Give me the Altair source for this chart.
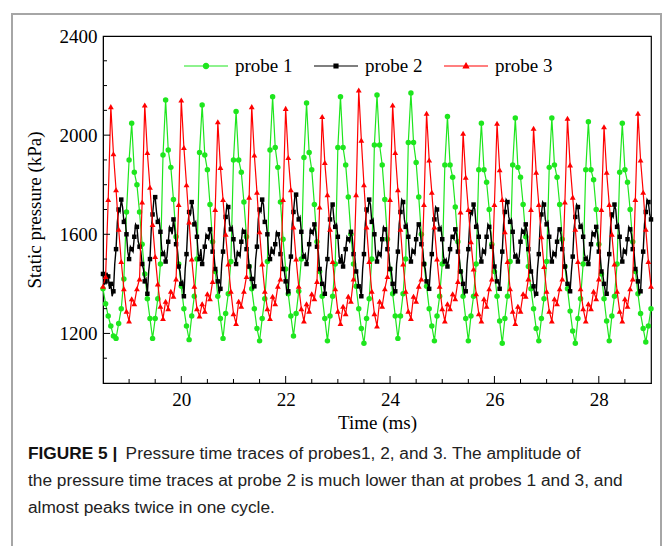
import altair as alt
import pandas as pd

# sampling of the traces (ms)
T0 = 18.5
DT = 0.05        # probes 1 and 3
DT_FINE = 0.025  # probe 2 (noisier trace, markers on every other sample)

# Static pressure (kPa)
probe1 = [1380, 1320, 1270, 1230, 1190, 1180, 1240, 1300, 1420, 1690, 1900, 2048,
          1850, 1800, 1690, 1560, 1440, 1340, 1260, 1180, 1260, 1340, 1480, 1920, 2142,
          1940, 1870, 1740, 1590, 1480, 1390, 1300, 1230, 1175, 1270, 1350, 1500, 1930, 2122,
          1920, 1860, 1720, 1570, 1450, 1350, 1260, 1180, 1280, 1360, 1490, 1900, 2095,
          1900, 1850, 1730, 1590, 1470, 1380, 1300, 1220, 1170, 1260, 1340, 1490, 1940, 2155,
          1950, 1870, 1730, 1580, 1460, 1360, 1270, 1190, 1280, 1370, 1500, 1910, 2130,
          1930, 1860, 1720, 1570, 1450, 1350, 1260, 1170, 1270, 1350, 1480, 1950, 2155,
          1950, 1880, 1750, 1600, 1480, 1390, 1300, 1220, 1160, 1260, 1340, 1500, 1960, 2162,
          1960, 1880, 1740, 1580, 1460, 1360, 1270, 1180, 1270, 1360, 1500, 1970, 2170,
          1970, 1890, 1750, 1600, 1480, 1390, 1300, 1230, 1170, 1270, 1350, 1480, 1880, 2075,
          1880, 1830, 1710, 1570, 1450, 1350, 1260, 1170, 1270, 1350, 1480, 1860, 2048,
          1860, 1810, 1700, 1560, 1450, 1350, 1250, 1160, 1260, 1350, 1490, 1880, 2069,
          1870, 1830, 1720, 1590, 1470, 1380, 1300, 1220, 1170, 1260, 1340, 1490, 1870, 2069,
          1880, 1830, 1720, 1580, 1470, 1380, 1290, 1210, 1160, 1260, 1340, 1480, 1860, 2054,
          1860, 1820, 1700, 1560, 1440, 1340, 1250, 1170, 1270, 1350, 1480, 1850, 2048,
          1860, 1810, 1700, 1570, 1450, 1360, 1280, 1220, 1165, 1230, 1300]

probe2 = [1440, 1400, 1410, 1445, 1430, 1380,
          1400, 1350, 1370, 1480, 1540, 1650, 1700, 1690, 1740, 1710, 1650, 1660, 1600, 1530,
          1500, 1550, 1540, 1530, 1590, 1640, 1630, 1570, 1550, 1530, 1480, 1460,
          1410, 1420, 1360, 1450, 1500, 1620, 1680, 1740, 1750, 1690, 1650, 1660, 1610, 1540,
          1520, 1530, 1490, 1510, 1570, 1630, 1620, 1600, 1660, 1620, 1560, 1540, 1470, 1450,
          1400, 1410, 1350, 1460, 1520, 1630, 1690, 1680, 1730, 1700, 1640, 1650, 1590, 1520,
          1500, 1540, 1480, 1500, 1550, 1600, 1590, 1580, 1620, 1600, 1530, 1520, 1460, 1450,
          1410, 1360, 1380, 1480, 1530, 1620, 1670, 1720, 1710, 1640, 1620, 1630, 1580, 1510,
          1480, 1530, 1520, 1510, 1570, 1620, 1610, 1600, 1540, 1530, 1470, 1460,
          1420, 1380, 1390, 1500, 1550, 1660, 1700, 1690, 1740, 1720, 1650, 1650, 1600, 1520,
          1500, 1550, 1530, 1520, 1560, 1610, 1600, 1580, 1520, 1510, 1460, 1450,
          1410, 1360, 1370, 1470, 1510, 1640, 1690, 1750, 1760, 1690, 1660, 1670, 1610, 1530,
          1510, 1520, 1480, 1500, 1560, 1620, 1610, 1600, 1640, 1610, 1550, 1530, 1460, 1440,
          1400, 1400, 1360, 1450, 1500, 1610, 1660, 1710, 1720, 1660, 1630, 1640, 1590, 1510,
          1490, 1520, 1470, 1490, 1540, 1590, 1580, 1570, 1610, 1590, 1520, 1510, 1450, 1440,
          1390, 1380, 1350, 1460, 1520, 1640, 1700, 1690, 1740, 1720, 1650, 1660, 1600, 1520,
          1490, 1530, 1520, 1510, 1580, 1630, 1620, 1610, 1540, 1520, 1460, 1450,
          1400, 1360, 1370, 1480, 1530, 1640, 1690, 1740, 1730, 1660, 1630, 1640, 1590, 1510,
          1490, 1540, 1530, 1520, 1580, 1630, 1640, 1620, 1560, 1540, 1480, 1460,
          1410, 1400, 1380, 1460, 1520, 1610, 1660, 1710, 1700, 1650, 1620, 1630, 1580, 1510,
          1490, 1500, 1470, 1500, 1540, 1590, 1590, 1580, 1620, 1600, 1530, 1510, 1450, 1440,
          1400, 1360, 1370, 1480, 1540, 1640, 1690, 1680, 1720, 1700, 1630, 1640, 1590, 1510,
          1490, 1540, 1530, 1520, 1590, 1640, 1630, 1610, 1550, 1540, 1470, 1450,
          1410, 1410, 1380, 1470, 1530, 1640, 1690, 1740, 1730, 1670, 1650, 1660, 1610, 1530,
          1510, 1520, 1490, 1510, 1570, 1620, 1610, 1600, 1640, 1610, 1540, 1520, 1450, 1440,
          1390, 1350, 1360, 1460, 1520, 1630, 1680, 1730, 1720, 1660, 1640, 1650, 1590, 1510,
          1490, 1530, 1520, 1510, 1570, 1620, 1620, 1600, 1540, 1530, 1470, 1450,
          1400, 1400, 1370, 1450, 1510, 1620, 1670, 1720, 1710, 1650, 1630, 1640, 1590, 1520,
          1500, 1510, 1480, 1500, 1560, 1610, 1600, 1590, 1630, 1600, 1530, 1520, 1450, 1440,
          1400, 1370, 1360, 1460, 1520, 1630, 1680, 1670, 1720, 1700, 1630, 1640, 1590, 1510,
          1490, 1540, 1530, 1520, 1580, 1630, 1620, 1600, 1540, 1530, 1460, 1450,
          1410, 1360, 1370, 1480, 1530, 1640, 1690, 1740, 1730, 1680, 1660]

probe3 = [1390, 1430, 1740, 2115,
          1925, 1780, 1620, 1490, 1380, 1290, 1250, 1340, 1320, 1380, 1420, 1730, 2122,
          1930, 1790, 1640, 1510, 1400, 1310, 1260, 1330, 1300, 1370, 1350, 1420, 1720, 2142,
          1950, 1800, 1650, 1500, 1390, 1300, 1270, 1320, 1290, 1360, 1340, 1410, 1700, 2054,
          1870, 1740, 1600, 1480, 1370, 1280, 1240, 1330, 1310, 1370, 1430, 1750, 2115,
          1920, 1770, 1610, 1480, 1370, 1300, 1260, 1350, 1320, 1390, 1420, 1740, 2108,
          1910, 1780, 1630, 1500, 1390, 1300, 1250, 1320, 1290, 1360, 1340, 1410, 1710, 2075,
          1890, 1760, 1620, 1490, 1380, 1290, 1240, 1310, 1280, 1350, 1330, 1420, 1760, 2182,
          1980, 1800, 1630, 1490, 1370, 1280, 1230, 1330, 1310, 1380, 1430, 1740, 2122,
          1930, 1780, 1620, 1480, 1370, 1290, 1260, 1350, 1330, 1390, 1420, 1720, 2088,
          1900, 1770, 1630, 1500, 1390, 1300, 1250, 1320, 1300, 1360, 1340, 1410, 1690, 2008,
          1830, 1700, 1570, 1460, 1360, 1280, 1250, 1340, 1310, 1380, 1420, 1720, 2048,
          1860, 1740, 1610, 1490, 1380, 1290, 1240, 1310, 1290, 1360, 1350, 1420, 1700, 2028,
          1850, 1720, 1590, 1470, 1370, 1290, 1250, 1340, 1320, 1380, 1420, 1730, 2068,
          1880, 1750, 1620, 1490, 1380, 1300, 1250, 1320, 1300, 1370, 1340, 1420, 1700, 2034,
          1850, 1720, 1600, 1480, 1370, 1290, 1250, 1340, 1310, 1380, 1420, 1740, 2088,
          1900, 1770, 1620, 1490, 1390]

series_names = ["probe 1", "probe 2", "probe 3"]
series_colors = ["#1ee61e", "#000000", "#ff0000"]
series_shapes = ["circle", "square", "triangle-up"]
series_sizes = [30, 20, 34]
series_widths = [1.2, 1.4, 1.2]
series_steps = [DT, DT_FINE, DT]
series_marker_every = [1, 2, 1]

x_label_values = [20, 22, 24, 26, 28]
x_minor_ticks = [19.0, 19.5, 20.5, 21.0, 21.5, 22.5, 23.0, 23.5, 24.5, 25.0, 25.5,
                 26.5, 27.0, 27.5, 28.5]
y_label_values = [1200, 1600, 2000, 2400]
y_minor_ticks = [1100, 1300, 1400, 1500, 1700, 1800, 1900, 2100, 2200, 2300]

caption_bold = "FIGURE 5 |"
caption_line1 = "Pressure time traces of probes1, 2, and 3. The amplitude of"
caption_line2 = "the pressure time traces at probe 2 is much lower than at probes 1 and 3, and"
caption_line3 = "almost peaks twice in one cycle."

rows = []
for name, vals, step, every in zip(series_names, [probe1, probe2, probe3],
                                   series_steps, series_marker_every):
    for i, v in enumerate(vals):
        t = round(T0 + step * i, 4)
        if t > 29.0001:
            break
        rows.append({"time": t, "pressure": v, "probe": name, "marker": i % every == 0})
df = pd.DataFrame(rows)

W, H = 548, 347
SERIF = "Liberation Serif"
SANS = "Liberation Sans"

xscale = alt.Scale(domain=[18.5, 29], nice=False, zero=False)
yscale = alt.Scale(domain=[1000, 2400], nice=False, zero=False)
cscale = alt.Scale(domain=series_names, range=series_colors)

# legend symbols: a line segment with the series marker in its middle
legend_paths = [
    "M-1,0H1M-0.12,0A0.12,0.12,0,1,1,0.12,0A0.12,0.12,0,1,1,-0.12,0Z",
    "M-1,0H1M-0.09,-0.09H0.09V0.09H-0.09Z",
    "M-1,0H1M0,-0.13L0.12,0.09L-0.12,0.09Z",
]
shape_scale = alt.Scale(domain=series_names, range=legend_paths)

legend = alt.Legend(
    title=None, orient="none", direction="horizontal", legendX=80, legendY=7,
    symbolSize=1936, labelFont=SERIF, labelFontSize=19, labelColor="#000",
    labelOffset=6, columnPadding=18, padding=0, symbolStrokeWidth=1.2,
    symbolOpacity=1,
)

xaxis = alt.Axis(values=x_label_values, ticks=False, grid=False, labelFont=SERIF,
                 labelFontSize=19, labelColor="#000", labelPadding=7, title="Time (ms)",
                 titleFont=SERIF, titleFontSize=19, titleFontWeight="normal",
                 titleColor="#000", titlePadding=4, domainColor="#000", labelFlush=False)
yaxis = alt.Axis(values=y_label_values, ticks=False, grid=False, labelFont=SERIF,
                 labelFontSize=19, labelColor="#000", labelPadding=6, format="d",
                 title="Static pressure (kPa)", titleFont=SERIF, titleFontSize=19,
                 titleFontWeight="normal", titleColor="#000", titlePadding=15,
                 domainColor="#000", labelFlush=False)

X = alt.X("time:Q", scale=xscale, axis=xaxis)
Y = alt.Y("pressure:Q", scale=yscale, axis=yaxis)
C = alt.Color("probe:N", scale=cscale, legend=legend)

layers = []
for name, shape, size, width in zip(series_names, series_shapes, series_sizes, series_widths):
    sub = alt.Chart(df).transform_filter(alt.datum.probe == name)
    layers.append(sub.mark_line(strokeWidth=width).encode(x=X, y=Y, color=C))
    layers.append(sub.transform_filter(alt.datum.marker).mark_point(
        shape=shape, size=size, filled=True, opacity=1).encode(x=X, y=Y, color=C))

# legend-only layer (no rows drawn); legend entries come from the fixed domains
legend_layer = alt.Chart(df).transform_filter(alt.datum.time < 0).mark_point(
    filled=True, size=1936, strokeWidth=1.2).encode(
    x=X, y=Y, color=C,
    stroke=alt.Stroke("probe:N", scale=cscale, legend=legend),
    shape=alt.Shape("probe:N", scale=shape_scale, legend=legend),
)

# inward axis ticks
xt_major = alt.Chart(pd.DataFrame({"time": x_label_values})).mark_rule(color="#000", strokeWidth=1).encode(
    x=X, y=alt.value(H), y2=alt.value(H - 7))
xt_minor = alt.Chart(pd.DataFrame({"time": x_minor_ticks})).mark_rule(color="#000", strokeWidth=1).encode(
    x=X, y=alt.value(H), y2=alt.value(H - 4))
yt_major = alt.Chart(pd.DataFrame({"pressure": y_label_values[:-1]})).mark_rule(color="#000", strokeWidth=1).encode(
    y=Y, x=alt.value(0), x2=alt.value(7))
yt_minor = alt.Chart(pd.DataFrame({"pressure": y_minor_ticks})).mark_rule(color="#000", strokeWidth=1).encode(
    y=Y, x=alt.value(0), x2=alt.value(4))

# figure frame and caption
frame = alt.Chart(pd.DataFrame({"k": [0]})).mark_rect(
    filled=False, stroke="#a6a6a6", strokeWidth=2).encode(
    x=alt.value(-91), x2=alt.value(558), y=alt.value(-22), y2=alt.value(530))


def caption(text, x, y, bold=False):
    return alt.Chart(pd.DataFrame({"t": [text]})).mark_text(
        font=SANS, fontSize=17.3, fontWeight="bold" if bold else "normal", align="left",
        baseline="alphabetic", color="#111" if bold else "#222").encode(
        text="t:N", x=alt.value(x), y=alt.value(y))


caps = [
    caption(caption_bold, -75, 423, bold=True),
    caption(caption_line1, 22.6, 423),
    caption(caption_line2, -75, 450),
    caption(caption_line3, -75, 477),
]

chart = alt.layer(
    frame, *layers, legend_layer, xt_major, xt_minor, yt_major, yt_minor, *caps
).properties(
    width=W, height=H,
    padding={"left": 103, "top": 36, "right": 12, "bottom": 163},
    autosize=alt.AutoSizeParams(type="none"),
    background="#ffffff",
).configure_view(stroke="#000", strokeWidth=1.2)

chart.save("out.html", embed_options={"renderer": "svg", "actions": False})
